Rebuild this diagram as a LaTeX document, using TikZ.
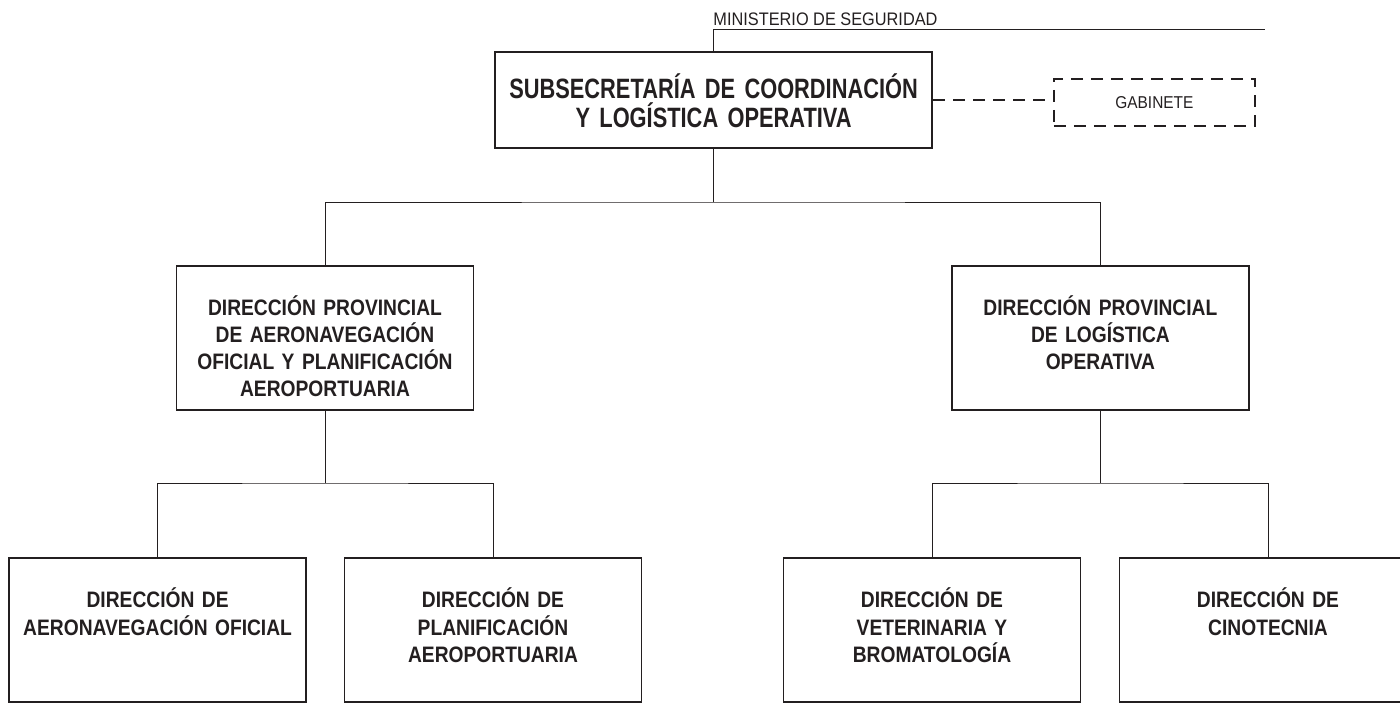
\documentclass[tikz,border=0pt]{standalone}
\usepackage{fontspec}
\setmainfont{Liberation Sans}[FakeStretch=0.9]
\newfontfamily\unitfont{Liberation Sans}[FakeStretch=0.86]
\newfontfamily\headfont{Liberation Sans}[FakeStretch=0.78]
\definecolor{ink}{HTML}{231F20}

\tikzset{
    unit/.style={draw=ink, line width=1.4pt, minimum width=7.425cm, minimum height=3.6cm, inner sep=0pt},
    unittext/.style={text=ink, font=\unitfont\bfseries\fontsize{15.9}{19.4}\selectfont, align=center, text width=7.2cm, inner sep=0pt},
    link/.style={draw=ink, line width=0.7pt},
    dashline/.style={draw=ink, dash pattern=on 0.3cm off 0.2cm, line width=1.4pt}
}

\begin{document}
\begin{tikzpicture}
        \useasboundingbox (0,0) rectangle (35,-17.575);

        % Ministry line
        \coordinate (minend) at (31.625,-0.725);
        \node[anchor=base west, inner sep=0pt, text=ink, font=\fontsize{12.9}{15}\selectfont] (minis) at (17.83,-0.625) {MINISTERIO DE SEGURIDAD};

        % Subsecretaria
        \node[draw=ink, line width=1.4pt, minimum width=10.925cm, minimum height=2.4cm] (top) at (17.84,-2.5) {};
        \node[anchor=base, inner sep=0pt, text=ink, align=center, text width=10.6cm, font=\headfont\bfseries\fontsize{19.9}{21.3}\selectfont] (top-text) at ([yshift=-1.175cm]top.north) {SUBSECRETARÍA DE COORDINACIÓN\\Y LOGÍSTICA OPERATIVA};
        \draw[link] (top.north) |- (minend);

        % Gabinete
        \node[dashline, minimum width=5.025cm, minimum height=1.175cm, text=ink, font=\fontsize{12.2}{14}\selectfont] (gab) at (28.86,-2.56) {GABINETE};
        \draw[dashline] (top.east) -- (top.east -| gab.west);

        % Direcciones provinciales
        \node[unit] (dpa) at (8.125,-8.45) {};
        \node[unit] (dpb) at (27.51,-8.45) {};
        \node[unittext, anchor=base] (dpa-text) at ([yshift=-1.25cm]dpa.north) {DIRECCIÓN PROVINCIAL\\DE AERONAVEGACIÓN\\OFICIAL Y PLANIFICACIÓN\\AEROPORTUARIA};
        \node[unittext, anchor=base] (dpb-text) at ([yshift=-1.25cm]dpb.north) {DIRECCIÓN PROVINCIAL\\DE LOGÍSTICA\\OPERATIVA};

        \coordinate (busa) at (17.84,-5.05);
        \draw[link] (top.south) -- (busa);
        \draw[link] (dpa.north) |- (busa) -| (dpb.north);

        % Direcciones
        \node[unit] (dao) at (3.94,-15.75) {};
        \node[unit] (dpl) at (12.325,-15.75) {};
        \node[unit] (dvb) at (23.3,-15.75) {};
        \node[unit] (dci) at (31.7,-15.75) {};
        \node[unittext, anchor=base] (dao-text) at ([yshift=-1.27cm]dao.north) {DIRECCIÓN DE\\AERONAVEGACIÓN OFICIAL};
        \node[unittext, anchor=base] (dpl-text) at ([yshift=-1.27cm]dpl.north) {DIRECCIÓN DE\\PLANIFICACIÓN\\AEROPORTUARIA};
        \node[unittext, anchor=base] (dvb-text) at ([yshift=-1.27cm]dvb.north) {DIRECCIÓN DE\\VETERINARIA Y\\BROMATOLOGÍA};
        \node[unittext, anchor=base] (dci-text) at ([yshift=-1.27cm]dci.north) {DIRECCIÓN DE\\CINOTECNIA};

        \coordinate (busb) at (8.125,-12.075);
        \coordinate (busc) at (27.51,-12.075);
        \draw[link] (dpa.south) -- (busb);
        \draw[link] (dao.north) |- (busb) -| (dpl.north);
        \draw[link] (dpb.south) -- (busc);
        \draw[link] (dvb.north) |- (busc) -| (dci.north);
    \end{tikzpicture}
\end{document}
